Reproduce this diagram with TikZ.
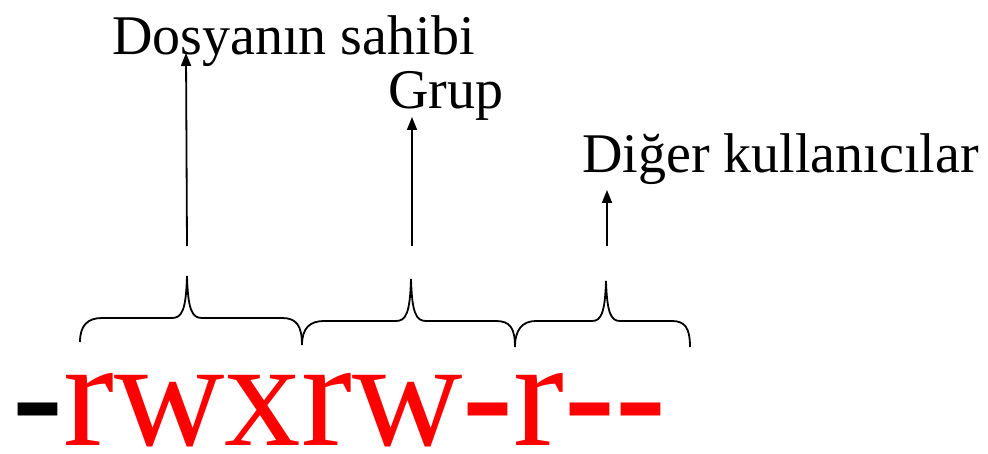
\documentclass[tikz,border=0pt]{standalone}
\usepackage{fontspec}
\setmainfont{Liberation Serif}
\usetikzlibrary{arrows.meta}
\definecolor{permred}{RGB}{255,0,0}
\newcommand{\hy}{\textbf{-}}
\begin{document}
\begin{tikzpicture}[x=1pt,y=-1pt,
  lbl/.style={anchor=base west,inner sep=0pt,font=\fontsize{56}{60}\selectfont},
  brace/.style={line width=1.8pt,black},
  pointer/.style={line width=1.8pt,-{Triangle[length=13pt,width=10pt]}}]
\useasboundingbox (0,0) rectangle (988,454);
% labels
\node[lbl] (owner) at (112,55) {Dosyanın sahibi};
\node[lbl] (group) at (388,109) {Grup};
\node[lbl] (other) at (582,173) {Diğer kullanıcılar};
% permission string
\node[anchor=base west,inner sep=0pt,text depth=0pt,font=\fontsize{153}{160}\selectfont] (perm) at (12,445)
  {\textcolor{black}{\hy}\textcolor{permred}{rwxrw\hy r\hy{}\hy}};
% braces
\draw[brace] (80,342) .. controls (80,325) and (88,318) .. (102,318) -- (172,318)
  .. controls (182,318) and (186,310) .. (187,276)
  .. controls (188,310) and (192,318) .. (202,318) -- (282,318)
  .. controls (296,318) and (302,325) .. (302,345);
\draw[brace] (302,345) .. controls (302,328) and (310,321) .. (324,321) -- (396,321)
  .. controls (406,321) and (410,313) .. (411,279)
  .. controls (412,313) and (416,321) .. (426,321) -- (496,321)
  .. controls (510,321) and (515,328) .. (515,347);
\draw[brace] (515,347) .. controls (515,330) and (522,321) .. (536,321) -- (592,321)
  .. controls (601,321) and (605,313) .. (606,281)
  .. controls (607,313) and (611,321) .. (620,321) -- (672,321)
  .. controls (685,321) and (690,328) .. (690,347);
% arrows
\coordinate (t1) at (187,246);
\coordinate (t2) at (412,246);
\coordinate (t3) at (607,246);
\coordinate (h1) at (186,53);
\coordinate (h2) at (412,117);
\coordinate (h3) at (607,190);
\draw[pointer] (t1) -- (h1);
\draw[pointer] (t2) -- (h2);
\draw[pointer] (t3) -- (h3);
\end{tikzpicture}
\end{document}
